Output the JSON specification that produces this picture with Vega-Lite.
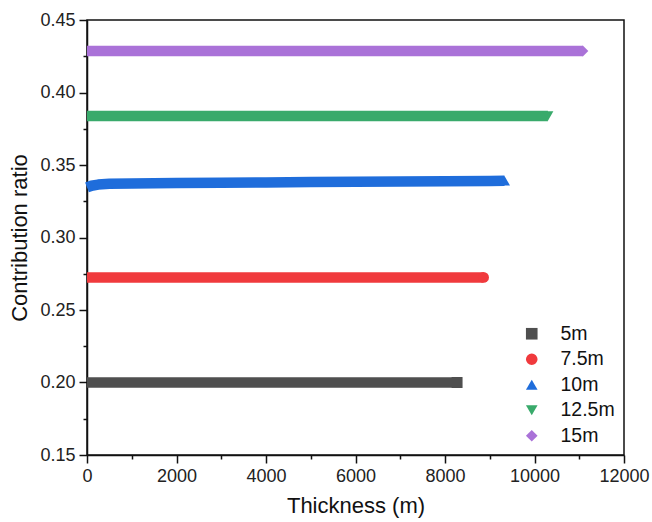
{
  "$schema": "https://vega.github.io/schema/vega-lite/v6.json",
  "width": 537,
  "height": 435,
  "autosize": {"type": "none"},
  "padding": {"left": 87, "top": 20, "right": 28, "bottom": 67},
  "background": "white",
  "config": {
    "font": "Liberation Sans",
    "view": {"stroke": "#111", "strokeWidth": 1.5},
    "axis": {
      "domainColor": "#111",
      "domainWidth": 1.5,
      "tickColor": "#111",
      "tickWidth": 1.5,
      "labelColor": "#222",
      "titleColor": "#111",
      "labelFont": "Liberation Sans",
      "titleFont": "Liberation Sans",
      "labelFontSize": 18,
      "titleFontSize": 22,
      "titleFontWeight": "normal",
      "grid": false
    }
  },
  "data": {
    "values": [
      {"t": 0, "r": 0.2, "s": "5m"},
      {"t": 1000, "r": 0.2, "s": "5m"},
      {"t": 2000, "r": 0.2, "s": "5m"},
      {"t": 3000, "r": 0.2, "s": "5m"},
      {"t": 4000, "r": 0.2, "s": "5m"},
      {"t": 5000, "r": 0.2, "s": "5m"},
      {"t": 6000, "r": 0.2, "s": "5m"},
      {"t": 7000, "r": 0.2, "s": "5m"},
      {"t": 8000, "r": 0.2, "s": "5m"},
      {"t": 8270, "r": 0.2, "s": "5m"},
      {"t": 0, "r": 0.2725, "s": "7.5m"},
      {"t": 1000, "r": 0.2725, "s": "7.5m"},
      {"t": 2000, "r": 0.2725, "s": "7.5m"},
      {"t": 3000, "r": 0.2725, "s": "7.5m"},
      {"t": 4000, "r": 0.2725, "s": "7.5m"},
      {"t": 5000, "r": 0.2725, "s": "7.5m"},
      {"t": 6000, "r": 0.2725, "s": "7.5m"},
      {"t": 7000, "r": 0.2725, "s": "7.5m"},
      {"t": 8000, "r": 0.2725, "s": "7.5m"},
      {"t": 8860, "r": 0.2725, "s": "7.5m"},
      {"t": 0, "r": 0.3345, "s": "10m"},
      {"t": 100, "r": 0.3357, "s": "10m"},
      {"t": 250, "r": 0.3365, "s": "10m"},
      {"t": 500, "r": 0.337, "s": "10m"},
      {"t": 1000, "r": 0.3373, "s": "10m"},
      {"t": 2000, "r": 0.3376, "s": "10m"},
      {"t": 3000, "r": 0.3378, "s": "10m"},
      {"t": 4000, "r": 0.338, "s": "10m"},
      {"t": 5000, "r": 0.3382, "s": "10m"},
      {"t": 6000, "r": 0.3384, "s": "10m"},
      {"t": 7000, "r": 0.3386, "s": "10m"},
      {"t": 8000, "r": 0.3388, "s": "10m"},
      {"t": 9000, "r": 0.339, "s": "10m"},
      {"t": 9330, "r": 0.3391, "s": "10m"},
      {"t": 0, "r": 0.3838, "s": "12.5m"},
      {"t": 1000, "r": 0.3838, "s": "12.5m"},
      {"t": 2000, "r": 0.3838, "s": "12.5m"},
      {"t": 3000, "r": 0.3838, "s": "12.5m"},
      {"t": 4000, "r": 0.3838, "s": "12.5m"},
      {"t": 5000, "r": 0.3838, "s": "12.5m"},
      {"t": 6000, "r": 0.3838, "s": "12.5m"},
      {"t": 7000, "r": 0.3838, "s": "12.5m"},
      {"t": 8000, "r": 0.3838, "s": "12.5m"},
      {"t": 9000, "r": 0.3838, "s": "12.5m"},
      {"t": 10000, "r": 0.3838, "s": "12.5m"},
      {"t": 10300, "r": 0.3838, "s": "12.5m"},
      {"t": 0, "r": 0.4286, "s": "15m"},
      {"t": 1000, "r": 0.4286, "s": "15m"},
      {"t": 2000, "r": 0.4286, "s": "15m"},
      {"t": 3000, "r": 0.4286, "s": "15m"},
      {"t": 4000, "r": 0.4286, "s": "15m"},
      {"t": 5000, "r": 0.4286, "s": "15m"},
      {"t": 6000, "r": 0.4286, "s": "15m"},
      {"t": 7000, "r": 0.4286, "s": "15m"},
      {"t": 8000, "r": 0.4286, "s": "15m"},
      {"t": 9000, "r": 0.4286, "s": "15m"},
      {"t": 10000, "r": 0.4286, "s": "15m"},
      {"t": 11000, "r": 0.4286, "s": "15m"},
      {"t": 11080, "r": 0.4286, "s": "15m"}
    ]
  },
  "encoding": {
    "x": {
      "field": "t", "type": "quantitative",
      "scale": {"domain": [0, 12000], "nice": false},
      "axis": {
        "title": "Thickness (m)",
        "values": [0, 1000, 2000, 3000, 4000, 5000, 6000, 7000, 8000, 9000, 10000, 11000, 12000],
        "labelExpr": "datum.value % 2000 === 0 ? datum.value : ''",
        "tickSize": {"condition": {"test": "datum.value % 2000 === 0", "value": 8}, "value": 4},
        "labelPadding": 4,
        "titlePadding": 10,
        "labelFlush": false
      }
    },
    "y": {
      "field": "r", "type": "quantitative",
      "scale": {"domain": [0.15, 0.45], "nice": false, "zero": false},
      "axis": {
        "title": "Contribution ratio",
        "values": [0.15, 0.175, 0.2, 0.225, 0.25, 0.275, 0.3, 0.325, 0.35, 0.375, 0.4, 0.425, 0.45],
        "labelExpr": "round(datum.value * 1000) % 50 === 0 ? format(datum.value, '.2f') : ''",
        "tickSize": {"condition": {"test": "round(datum.value * 1000) % 50 === 0", "value": 8}, "value": 4},
        "labelPadding": 4,
        "titlePadding": 8,
        "labelFlush": false
      }
    },
    "color": {
      "field": "s", "type": "nominal", "title": null,
      "scale": {
        "domain": ["5m", "7.5m", "10m", "12.5m", "15m"],
        "range": ["#4f4f4f", "#f03a3d", "#1f6ddb", "#39aa6b", "#aa72d8"]
      }
    }
  },
  "layer": [
    {
      "mark": {"type": "line", "strokeWidth": 10.5, "strokeCap": "butt", "strokeJoin": "round"},
      "encoding": {"detail": {"field": "s"}}
    },
    {
      "transform": [
        {"window": [{"op": "rank", "as": "rk"}], "groupby": ["s"], "sort": [{"field": "t", "order": "descending"}]},
        {"filter": "datum.rk === 1"}
      ],
      "mark": {"type": "point", "filled": true, "opacity": 1, "size": 120},
      "encoding": {
        "shape": {
          "field": "s", "type": "nominal", "title": null,
          "scale": {
            "domain": ["5m", "7.5m", "10m", "12.5m", "15m"],
            "range": ["square", "circle", "triangle-up", "triangle-down", "diamond"]
          },
          "legend": {
            "orient": "none",
            "legendX": 435,
            "legendY": 304,
            "symbolSize": 135,
            "symbolStrokeWidth": 0,
            "labelFontSize": 19.5,
            "labelFont": "Liberation Sans",
            "labelColor": "#111",
            "labelOffset": 19,
            "rowPadding": 4.5
          }
        }
      }
    }
  ]
}
